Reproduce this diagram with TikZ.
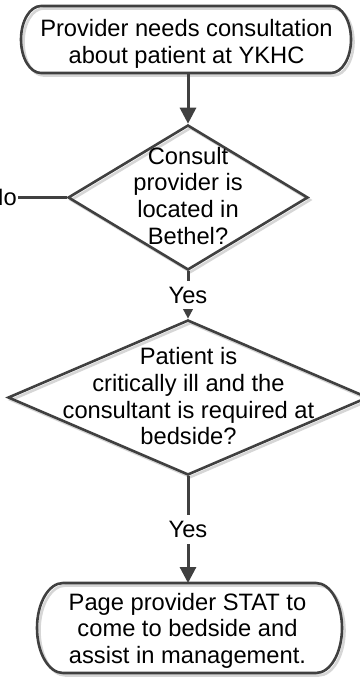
\documentclass[tikz,border=0pt]{standalone}
\usepackage{fontspec}
\setmainfont{Liberation Sans}
\usetikzlibrary{shapes.geometric, arrows.meta}

\definecolor{edgegray}{HTML}{404040}
\definecolor{ghost}{HTML}{D6D6D6}

\tikzset{
    outline/.style={draw=edgegray, line width=2.6pt,
        preaction={draw=ghost, line width=2.6pt, transform canvas={shift={(2.5pt,-2.5pt)}}}},
    decision/.style={diamond, outline, inner sep=0pt},
    terminal/.style={rectangle, inner sep=0pt, outer sep=0pt},
    txt/.style={align=center, inner sep=0pt, font=\fontsize{23.7}{26.6}\selectfont},
    flow/.style={draw=edgegray, line width=3pt, -{Triangle[length=16pt, width=16pt]}},
    lbl/.style={fill=white, inner sep=6pt, font=\fontsize{23.7}{26.6}\selectfont}
}

\begin{document}
\begin{tikzpicture}[x=1pt, y=1pt]
    \useasboundingbox (0,0) rectangle (359,-677);

    % Shapes
    \node[terminal, minimum width=330pt, minimum height=67pt] (start) at (186,-39.5) {};
    \node[decision, minimum width=240pt, minimum height=145pt] (bethel) at (188,-197.5) {};
    \node[decision, minimum width=360pt, minimum height=155pt] (bedside) at (188,-397.5) {};
    \node[terminal, minimum width=305pt, minimum height=90pt] (page) at (189.5,-628) {};

    % Rounded ends of the terminals
    \draw[outline] ([xshift=20pt]start.north west) -- ([xshift=-20pt]start.north east)
        arc[start angle=90, end angle=-90, x radius=20pt, y radius=33.5pt]
        -- ([xshift=20pt]start.south west)
        arc[start angle=270, end angle=90, x radius=20pt, y radius=33.5pt] -- cycle;
    \draw[outline] ([xshift=26pt]page.north west) -- ([xshift=-26pt]page.north east)
        arc[start angle=90, end angle=-90, x radius=26pt, y radius=45pt]
        -- ([xshift=26pt]page.south west)
        arc[start angle=270, end angle=90, x radius=26pt, y radius=45pt] -- cycle;

    % Texts
    \node[txt] (starttext) at (186.5,-44) {Provider needs consultation\\about patient at YKHC};
    \node[txt] (betheltext) at (188,-195.7) {Consult\\provider is\\located in\\Bethel?};
    \node[txt] (bedsidetext) at (188.5,-396.4)
        {Patient is\\critically ill and the\\consultant is required at\\bedside?};
    \node[txt] (pagetext) at (187.5,-630.5)
        {Page provider STAT to\\come to bedside and\\assist in management.};

    % Connectors
    \draw[flow] (bethel.north |- start.south) -- (bethel.north);
    \draw[flow] (bethel.south) -- node[lbl] (yes1) {Yes} (bedside.north);
    \draw[flow] (bedside.south) -- node[lbl] (yes2) {Yes} (bedside.south |- page.north);
    \node[lbl, anchor=east, inner sep=1pt] (no) at (18,-197.5) {No};
    \draw[draw=edgegray, line width=3pt] (bethel.west) -- (no.east);
\end{tikzpicture}
\end{document}
